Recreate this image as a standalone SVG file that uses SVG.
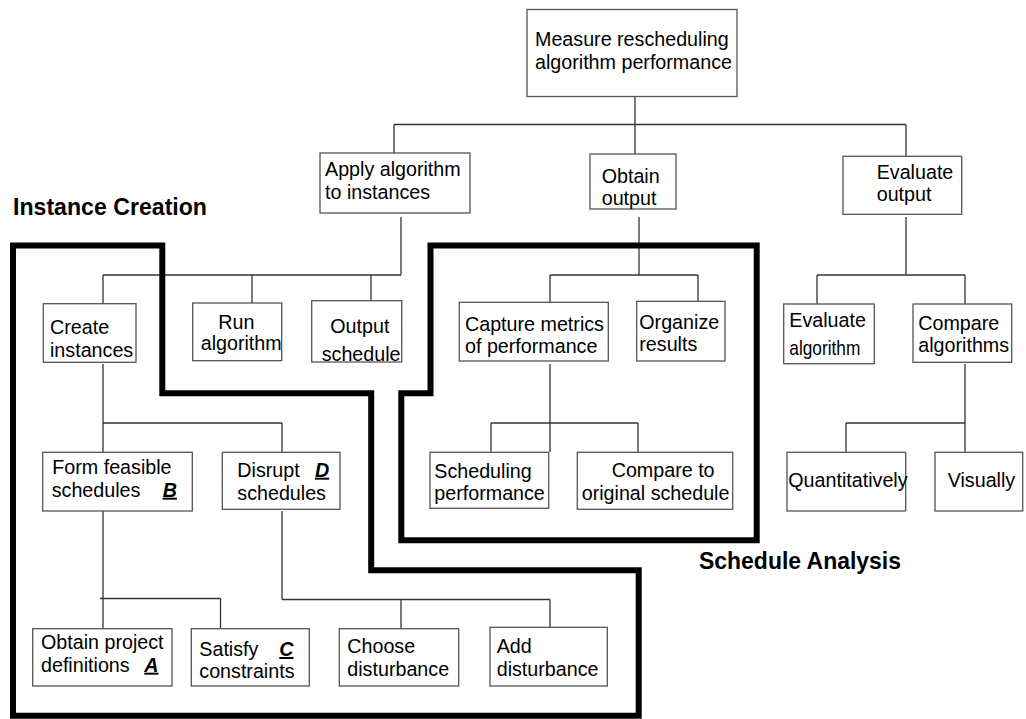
<svg xmlns="http://www.w3.org/2000/svg" width="1026" height="719" viewBox="0 0 1026 719">
<style>
.box{fill:#fff;stroke:#555;stroke-width:1.3}
.t{font-family:"Liberation Sans",Arial,sans-serif;font-size:19.7px;fill:#000}
.k{font-family:"Liberation Sans",Arial,sans-serif;font-size:19.7px;font-weight:bold;font-style:italic;text-decoration:underline;fill:#000}
.h{font-family:"Liberation Sans",Arial,sans-serif;font-size:23px;font-weight:bold;fill:#000}
.c line{stroke:#333;stroke-width:1.3}
.region{fill:none;stroke:#000;stroke-width:6}
</style>
<rect width="1026" height="719" fill="#fff"/>
<g class="c" id="connectors">
<line x1="635" y1="97" x2="635" y2="154"/>
<line x1="394" y1="124.5" x2="906" y2="124.5"/>
<line x1="394" y1="124.5" x2="394" y2="153"/>
<line x1="906" y1="124.5" x2="906" y2="156"/>
<line x1="401" y1="217" x2="401" y2="275"/>
<line x1="103" y1="275" x2="401" y2="275"/>
<line x1="103" y1="275" x2="103" y2="304"/>
<line x1="252" y1="275" x2="252" y2="303"/>
<line x1="371" y1="275" x2="371" y2="301"/>
<line x1="639" y1="217" x2="639" y2="275"/>
<line x1="550" y1="275" x2="698" y2="275"/>
<line x1="550" y1="275" x2="550" y2="302"/>
<line x1="698" y1="275" x2="698" y2="301"/>
<line x1="906" y1="217" x2="906" y2="275"/>
<line x1="817" y1="275" x2="965" y2="275"/>
<line x1="817" y1="275" x2="817" y2="304"/>
<line x1="965" y1="275" x2="965" y2="304"/>
<line x1="103" y1="364" x2="103" y2="452"/>
<line x1="103" y1="423" x2="282" y2="423"/>
<line x1="282" y1="423" x2="282" y2="452"/>
<line x1="103" y1="511" x2="103" y2="629"/>
<line x1="100" y1="598.5" x2="220.5" y2="598.5"/>
<line x1="220.5" y1="598.5" x2="220.5" y2="629"/>
<line x1="282" y1="511" x2="282" y2="599.5"/>
<line x1="282" y1="599.5" x2="550" y2="599.5"/>
<line x1="401" y1="599.5" x2="401" y2="629"/>
<line x1="550" y1="599.5" x2="550" y2="627"/>
<line x1="550" y1="364" x2="550" y2="452"/>
<line x1="491" y1="423" x2="638" y2="423"/>
<line x1="491" y1="423" x2="491" y2="452"/>
<line x1="638" y1="423" x2="638" y2="452"/>
<line x1="965" y1="364" x2="965" y2="452"/>
<line x1="846" y1="423" x2="965" y2="423"/>
<line x1="846" y1="423" x2="846" y2="452"/>
</g>
<g id="regions">
<polygon class="region" points="13,245.5 162.3,245.5 162.3,393.3 371.2,393.3 371.2,570.3 638.7,570.3 638.7,715.7 13,715.7"/>
<polygon class="region" points="430.5,245.5 756.7,245.5 756.7,540.3 401.3,540.3 401.3,393.3 430.5,393.3"/>
<text class="h" x="13" y="215" textLength="194" lengthAdjust="spacingAndGlyphs">Instance Creation</text>
<text class="h" x="699" y="569" textLength="202" lengthAdjust="spacingAndGlyphs">Schedule Analysis</text>
</g>
<g id="n-measure"><rect class="box" x="527" y="9.5" width="210" height="87"/><text class="t" x="535" y="46">Measure rescheduling</text><text class="t" x="535" y="68.7">algorithm performance</text></g>
<g id="n-apply"><rect class="box" x="320" y="153" width="150" height="60"/><text class="t" x="325" y="176">Apply algorithm</text><text class="t" x="325" y="198.7">to instances</text></g>
<g id="n-obtain"><rect class="box" x="590" y="154" width="86" height="55"/><text class="t" x="601.7" y="182.7">Obtain</text><text class="t" x="601.7" y="204.7">output</text></g>
<g id="n-evaluate"><rect class="box" x="843" y="156.3" width="118.7" height="58"/><text class="t" x="876.7" y="179.3">Evaluate</text><text class="t" x="876.7" y="201.3">output</text></g>
<g id="n-create"><rect class="box" x="43.3" y="303.7" width="92.7" height="58.6"/><text class="t" x="50" y="334">Create</text><text class="t" x="50" y="357.3">instances</text></g>
<g id="n-run"><rect class="box" x="192.7" y="303" width="89" height="57.7"/><text class="t" x="218.3" y="329.3">Run</text><text class="t" x="200.7" y="350">algorithm</text></g>
<g id="n-output"><rect class="box" x="311.7" y="300.7" width="90" height="61.3"/><text class="t" x="330.3" y="332.7">Output</text><text class="t" x="321.7" y="361">schedule</text></g>
<g id="n-capture"><rect class="box" x="459.3" y="302.3" width="149" height="58.7"/><text class="t" x="465" y="330.7">Capture metrics</text><text class="t" x="465" y="353.3">of performance</text></g>
<g id="n-organize"><rect class="box" x="636.7" y="301.3" width="88.3" height="59.7"/><text class="t" x="639.3" y="329.3">Organize</text><text class="t" x="639.3" y="350.7">results</text></g>
<g id="n-evalalg"><rect class="box" x="783.7" y="304" width="90.6" height="59.7"/><text class="t" x="789.3" y="327.3">Evaluate</text><text class="t" x="789.3" y="355" style="font-size:21px" textLength="71" lengthAdjust="spacingAndGlyphs">algorithm</text></g>
<g id="n-compalg"><rect class="box" x="913" y="304" width="98.7" height="58.3"/><text class="t" x="918.3" y="330">Compare</text><text class="t" x="918.3" y="352.3">algorithms</text></g>
<g id="n-form"><rect class="box" x="42.7" y="452.3" width="149.6" height="58.7"/><text class="t" x="52.3" y="474">Form feasible</text><text class="t" x="51.7" y="496.7">schedules</text><text class="k" x="162.7" y="496.7">B</text></g>
<g id="n-disrupt"><rect class="box" x="222.3" y="452.3" width="117.7" height="57"/><text class="t" x="237.3" y="476.7">Disrupt</text><text class="k" x="315" y="476.7">D</text><text class="t" x="237.3" y="500">schedules</text></g>
<g id="n-schedperf"><rect class="box" x="430" y="452.3" width="118.7" height="56"/><text class="t" x="434.3" y="478.3">Scheduling</text><text class="t" x="434.3" y="500">performance</text></g>
<g id="n-compare"><rect class="box" x="577.3" y="452.3" width="155.4" height="57"/><text class="t" x="611.7" y="476.7">Compare to</text><text class="t" x="581.7" y="500">original schedule</text></g>
<g id="n-quant"><rect class="box" x="787" y="452.3" width="118.7" height="58.7"/><text class="t" x="788.3" y="487.3">Quantitatively</text></g>
<g id="n-visual"><rect class="box" x="935" y="452.3" width="87.7" height="58.7"/><text class="t" x="947.7" y="487.3">Visually</text></g>
<g id="n-projdef"><rect class="box" x="32.7" y="628.7" width="139.3" height="57.3"/><text class="t" x="41" y="649.3">Obtain project</text><text class="t" x="41" y="671.7">definitions</text><text class="k" x="144.3" y="671.7">A</text></g>
<g id="n-satisfy"><rect class="box" x="191.3" y="628.7" width="118" height="57.3"/><text class="t" x="199.3" y="656">Satisfy</text><text class="k" x="279.3" y="656">C</text><text class="t" x="199.3" y="678.3">constraints</text></g>
<g id="n-choose"><rect class="box" x="339.3" y="628.7" width="119.4" height="57.3"/><text class="t" x="347.3" y="652.7">Choose</text><text class="t" x="347.3" y="675.7">disturbance</text></g>
<g id="n-add"><rect class="box" x="490" y="627.3" width="117.3" height="58.7"/><text class="t" x="496.7" y="652.7">Add</text><text class="t" x="496.7" y="675.7">disturbance</text></g>
</svg>
